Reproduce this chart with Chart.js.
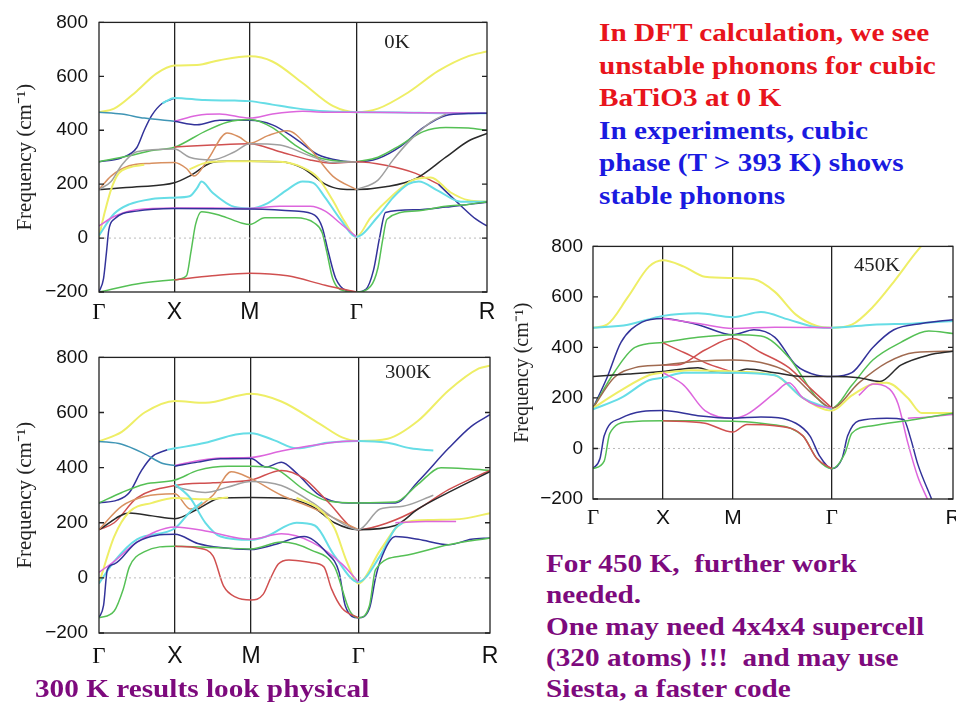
<!DOCTYPE html>
<html>
<head>
<meta charset="utf-8">
<script src="https://cdn.jsdelivr.net/npm/chart.js@4.4.0/dist/chart.umd.min.js"></script>
<style>
  body { margin: 0; background: #fff; width: 956px; height: 707px; overflow: hidden; position: relative; }
  .box { position: absolute; }
  .txt { position: absolute; font-family: 'Liberation Serif', 'Times New Roman', serif; font-weight: bold; white-space: nowrap; transform: scaleX(1.17); transform-origin: 0 0; }
  .corner { position: absolute; font-family: 'Liberation Serif', serif; font-size: 18px; color: #222; transform: translate(-50%, -50%) scaleX(1.15); }
</style>
</head>
<body>
<div class="box" style="left:0;top:0;width:500px;height:335px"><canvas id="c0" width="500" height="335"></canvas></div>
<div class="box" style="left:0;top:335px;width:500px;height:340px"><canvas id="c300" width="500" height="340"></canvas></div>
<div class="box" style="left:500px;top:225px;width:456px;height:320px"><canvas id="c450" width="456" height="320"></canvas></div>

<div class="corner" style="left:397px;top:42px">0K</div>
<div class="corner" style="left:408px;top:372px">300K</div>
<div class="corner" style="left:877px;top:265px">450K</div>

<div class="txt" style="left:599px;top:17px;font-size:25px;line-height:32.5px">
  <span style="color:#e8141c">In DFT calculation, we see<br>unstable phonons for cubic<br>BaTiO3 at 0 K</span><br>
  <span style="color:#1a1ae0">In experiments, cubic<br>phase (T &gt; 393 K) shows<br>stable phonons</span>
</div>
<div class="txt" style="left:546px;top:548px;font-size:25px;line-height:31.3px;color:#7d0a7d">
  For 450 K,&nbsp; further work<br>needed.<br>One may need 4x4x4 supercell<br>(320 atoms) !!!&nbsp; and may use<br>Siesta, a faster code
</div>
<div class="txt" style="left:35px;top:673px;font-size:25px;line-height:31px;color:#7d0a7d">300 K results look physical</div>

<script>
// high-symmetry path: Γ - X - M - Γ - R (path length units)
const kTicks = [0, 0.5, 1.0, 1.707, 2.573];
const kLabels = ['Γ', 'X', 'M', 'Γ', 'R'];
const freqTicks = [-200, 0, 200, 400, 600, 800];
const zeroLine = [[0, 0], [2.573, 0]];

// ---- 0 K bands: [k, frequency cm^-1]
const k0_yellowTop = [[0,467],[0.1,480],[0.25,545],[0.38,610],[0.5,640],[0.65,642],[0.8,660],[1.0,674],[1.15,655],[1.35,575],[1.55,490],[1.707,467],[1.85,480],[2.05,540],[2.25,620],[2.45,675],[2.573,692]];
const k0_yellowLow = [[0,5],[0.04,100],[0.08,180],[0.13,240],[0.2,262],[0.3,272]];
const k0_yellowMid = [[0.6,255],[0.7,278],[0.85,285],[1.0,285],[1.2,283],[1.35,262],[1.45,225],[1.55,140],[1.63,60],[1.707,5],[1.8,75],[1.95,160],[2.08,215],[2.2,225],[2.33,170],[2.45,140],[2.573,135]];
const k0_navyRise = [[0,283],[0.15,298],[0.25,335],[0.3,400],[0.35,455],[0.42,500],[0.5,518]];
const k0_cyanTop = [[0.42,500],[0.5,520],[0.7,512],[0.9,510],[1.0,508],[1.15,495],[1.3,482],[1.5,470],[1.707,467],[2.0,466],[2.3,463],[2.573,463]];
const k0_teal = [[0,467],[0.15,460],[0.3,445],[0.5,433]];
const k0_magentaTop = [[0.5,433],[0.65,455],[0.8,460],[1.0,445],[1.15,460],[1.35,470],[1.5,467],[1.707,467],[2.1,465],[2.573,463]];
const k0_navyTop = [[0.5,433],[0.65,420],[0.8,437],[1.0,437],[1.15,420],[1.3,370],[1.45,310],[1.6,287],[1.707,283],[1.85,295],[2.0,340],[2.15,410],[2.3,455],[2.45,462],[2.573,463]];
const k0_greenTop = [[0,283],[0.2,305],[0.35,325],[0.5,337],[0.7,395],[0.85,430],[1.0,440],[1.15,410],[1.3,345],[1.45,300],[1.6,285],[1.707,283]];
const k0_greenR = [[1.707,283],[1.85,300],[2.0,345],[2.15,395],[2.3,410],[2.45,408],[2.573,400]];
const k0_red = [[0.5,338],[0.75,345],[1.0,350],[1.2,320],[1.4,290],[1.55,278],[1.707,283],[1.9,270],[2.1,240],[2.25,200]];
const k0_navyDown = [[2.25,200],[2.4,120],[2.5,70],[2.573,45]];
const k0_orange = [[0,180],[0.08,230],[0.2,268],[0.35,278],[0.5,280],[0.58,258],[0.63,230],[0.72,290],[0.85,390],[0.93,375],[1.0,352],[1.12,380],[1.25,398],[1.4,330],[1.55,230],[1.707,180]];
const k0_black = [[0,180],[0.25,190],[0.5,205],[0.6,230],[0.75,280],[0.85,285],[1.0,285],[1.2,283],[1.35,260],[1.5,200],[1.6,182],[1.707,180],[1.9,190],[2.1,220],[2.3,300],[2.45,360],[2.573,388]];
const k0_gray = [[0,180],[0.08,210],[0.15,270],[0.25,320],[0.5,330],[0.6,300],[0.75,290],[0.9,320],[1.0,350],[1.2,345],[1.4,305],[1.55,280],[1.707,283]];
const k0_grayR = [[1.707,180],[1.85,215],[1.95,290],[2.05,355],[2.2,430],[2.3,460]];
const k0_cyanLow = [[0,10],[0.1,90],[0.2,125],[0.35,145],[0.5,150],[0.6,155],[0.65,185],[0.68,210],[0.75,170],[0.9,115],[1.0,110],[1.12,130],[1.25,180],[1.35,210],[1.42,205],[1.5,150],[1.6,70],[1.707,5],[1.85,80],[1.95,150],[2.05,200],[2.12,210],[2.25,175],[2.4,135],[2.573,135]];
const k0_magentaLow = [[0,45],[0.1,80],[0.25,105],[0.5,112],[0.75,112],[1.0,110],[1.2,118],[1.4,118],[1.5,100],[1.6,55],[1.707,5]];
const k0_navyLow = [[0,-200],[0.03,-150],[0.05,-50],[0.065,30],[0.1,70],[0.25,100],[0.5,110],[1.0,108],[1.3,100],[1.43,85],[1.48,40],[1.52,-50],[1.57,-150],[1.64,-195],[1.707,-200],[1.77,-190],[1.82,-120],[1.86,0],[1.9,95],[2.1,105],[2.3,115],[2.45,125],[2.573,133]];
const k0_greenLow = [[0,-200],[0.25,-170],[0.5,-155],[0.58,-140],[0.61,-50],[0.64,50],[0.68,98],[0.8,85],[0.95,55],[1.0,50],[1.1,75],[1.3,75],[1.43,55],[1.48,20],[1.51,-50],[1.55,-150],[1.62,-195],[1.707,-200],[1.8,-180],[1.85,-110],[1.88,-10],[1.91,70],[2.1,100],[2.3,118],[2.45,125],[2.573,135]];
const k0_redLow = [[0.5,-155],[0.75,-140],[1.0,-130],[1.25,-140],[1.5,-175],[1.707,-200]];

// ---- 300 K bands
const k3_yellowTop = [[0,495],[0.15,530],[0.3,600],[0.5,642],[0.7,635],[1.0,668],[1.2,640],[1.45,560],[1.6,510],[1.707,497],[1.9,505],[2.1,570],[2.3,680],[2.5,760],[2.573,770]];
const k3_teal = [[0,495],[0.15,485],[0.3,450],[0.42,415],[0.5,408]];
const k3_navyRise = [[0,272],[0.12,282],[0.2,310],[0.28,390],[0.35,440],[0.45,465]];
const k3_cyanTop = [[0.45,465],[0.5,470],[0.7,490],[0.9,520],[1.0,525],[1.15,500],[1.3,470],[1.5,490],[1.707,497],[1.9,490],[2.05,470],[2.2,462]];
const k3_magentaTop = [[0.5,408],[0.65,425],[0.8,435],[1.0,437],[1.2,460],[1.4,480],[1.6,495],[1.707,497]];
const k3_navyTop = [[0.5,405],[0.65,420],[0.8,432],[1.0,433],[1.1,402],[1.2,420],[1.3,380],[1.45,300],[1.6,273],[1.707,272],[1.95,272],[2.1,350],[2.3,470],[2.45,550],[2.573,592]];
const k3_greenTop = [[0,272],[0.15,310],[0.3,340],[0.5,355],[0.65,390],[0.85,405],[1.0,405],[1.15,398],[1.35,320],[1.5,280],[1.707,272],[1.95,275],[2.1,340],[2.25,400],[2.45,395],[2.573,390]];
const k3_red = [[0,175],[0.1,200],[0.25,290],[0.5,335],[0.75,345],[1.0,355],[1.2,390],[1.35,360],[1.5,280],[1.707,175],[1.9,200],[2.1,250],[2.3,320],[2.573,390]];
const k3_orange = [[0,175],[0.15,260],[0.3,295],[0.5,305],[0.6,250],[0.75,300],[0.87,385],[1.0,360],[1.2,300],[1.4,255],[1.707,175]];
const k3_black = [[0,175],[0.2,235],[0.35,225],[0.5,215],[0.65,250],[0.8,290],[1.0,292],[1.2,290],[1.4,260],[1.55,200],[1.707,175],[1.95,190],[2.1,250],[2.3,310],[2.573,385]];
const k3_gray = [[0.5,330],[0.7,310],[0.85,330],[1.0,350],[1.2,335],[1.4,275],[1.55,215],[1.707,175],[1.85,250],[2.0,260],[2.2,300]];
const k3_yellowLow = [[0,-20],[0.1,150],[0.2,240],[0.35,272],[0.5,290],[0.7,285],[0.85,292]];
const k3_yellowMid = [[1.3,290],[1.45,250],[1.55,180],[1.63,60],[1.707,-20],[1.85,100],[2.0,200],[2.2,210],[2.4,215],[2.573,235]];
const k3_cyanLowA = [[0,-20],[0.1,60],[0.25,140],[0.5,180],[0.6,240],[0.68,275]];
const k3_cyanLowB = [[0.5,340],[0.6,290],[0.7,200],[0.8,150],[1.0,138],[1.1,150],[1.3,200],[1.42,190],[1.55,80],[1.707,-15],[1.85,80],[1.95,180],[2.0,200]];
const k3_magentaLow = [[0,20],[0.1,60],[0.25,130],[0.5,185],[0.7,170],[1.0,140],[1.2,160],[1.4,130],[1.6,50],[1.707,-15]];
const k3_magentaR = [[1.95,200],[2.15,205],[2.35,205]];
const k3_navyLow = [[0,-145],[0.03,-100],[0.055,30],[0.1,50],[0.25,130],[0.5,158],[0.65,125],[0.8,110],[1.0,103],[1.15,120],[1.35,150],[1.5,90],[1.58,20],[1.62,-100],[1.707,-145],[1.78,-110],[1.82,0],[1.85,60],[1.95,150],[2.1,140],[2.3,120],[2.45,140],[2.573,145]];
const k3_greenLow = [[0,-145],[0.1,-120],[0.16,-40],[0.2,40],[0.3,95],[0.5,115],[0.75,110],[1.0,105],[1.2,130],[1.4,100],[1.55,40],[1.65,-120],[1.707,-145],[1.78,-100],[1.82,30],[2.0,80],[2.3,120],[2.573,145]];
const k3_redLow = [[0.5,115],[0.65,108],[0.75,80],[0.82,-30],[0.9,-70],[1.0,-80],[1.08,-60],[1.13,0],[1.18,50],[1.25,65],[1.4,55],[1.48,40],[1.53,-40],[1.6,-110],[1.707,-145]];

// ---- 450 K bands
const k4_yellowTop = [[0,478],[0.1,490],[0.25,600],[0.4,720],[0.5,745],[0.65,720],[0.8,680],[1.0,675],[1.15,670],[1.3,620],[1.45,530],[1.6,485],[1.707,478],[1.85,490],[2.0,560],[2.15,660],[2.3,770],[2.45,870]];
const k4_cyanTop = [[0,478],[0.25,490],[0.5,525],[0.75,535],[1.0,520],[1.2,540],[1.4,510],[1.6,480],[1.707,478],[2.0,490],[2.3,495],[2.573,505]];
const k4_navyTop = [[0,160],[0.1,280],[0.2,420],[0.35,500],[0.5,515],[0.75,490],[1.0,450],[1.15,470],[1.3,440],[1.45,330],[1.6,290],[1.707,285],[1.85,300],[2.0,400],[2.15,470],[2.35,495],[2.573,510]];
const k4_magentaTop = [[0.5,515],[0.75,495],[1.0,475],[1.3,480],[1.707,478]];
const k4_greenTop = [[0,160],[0.15,300],[0.3,400],[0.5,420],[0.75,440],[1.0,450],[1.2,445],[1.4,360],[1.6,200],[1.707,160],[1.85,250],[2.0,350],[2.2,420],[2.4,465],[2.573,455]];
const k4_redA = [[0.5,418],[0.65,380],[0.8,340],[1.0,302]];
const k4_redB = [[0.5,330],[0.6,330],[0.8,390],[1.0,435],[1.2,380],[1.4,320],[1.55,240],[1.707,160]];
const k4_brown = [[0,160],[0.15,280],[0.3,320],[0.5,330],[0.75,345],[1.0,350],[1.2,340],[1.4,300],[1.6,200],[1.707,160],[1.9,260],[2.1,340],[2.3,380],[2.573,385]];
const k4_black = [[0,285],[0.25,295],[0.5,305],[0.75,320],[0.85,305],[1.0,300],[1.1,315],[1.3,300],[1.5,285],[1.707,285],[1.9,280],[2.05,265],[2.2,330],[2.4,370],[2.573,385]];
const k4_yellowLow = [[0,160],[0.2,230],[0.4,290],[0.5,300],[0.7,310],[1.0,305],[1.3,290],[1.5,200],[1.707,150],[1.85,210],[2.0,255],[2.1,260],[2.25,200],[2.35,140],[2.573,140]];
const k4_cyanLow = [[0,155],[0.2,200],[0.4,270],[0.5,280],[0.65,300],[1.0,300],[1.3,290],[1.5,200],[1.707,155]];
const k4_magentaLow = [[0.5,300],[0.65,250],[0.8,150],[1.0,120],[1.1,135],[1.3,220],[1.4,260],[1.5,200],[1.6,170],[1.707,160]];
const k4_magentaR = [[1.9,210],[2.0,255],[2.12,235],[2.18,177],[2.25,22],[2.32,-110],[2.39,-200]];
const k4_magentaR2 = [[2.25,120],[2.4,125],[2.573,135]];
const k4_navyLow = [[0,-80],[0.05,-40],[0.08,50],[0.2,120],[0.5,150],[0.75,130],[1.0,120],[1.2,125],[1.45,100],[1.55,50],[1.62,-30],[1.707,-80],[1.78,-40],[1.82,50],[1.9,110],[2.1,120],[2.22,115],[2.27,40],[2.32,-60],[2.42,-200]];
const k4_greenLow = [[0,-80],[0.08,-50],[0.12,60],[0.25,105],[0.5,110],[0.75,110],[1.0,108],[1.2,100],[1.5,50],[1.6,-40],[1.707,-80],[1.8,-20],[1.85,60],[2.0,90],[2.3,115],[2.573,140]];
const k4_redLow = [[0.5,110],[0.8,100],[1.0,65],[1.1,95],[1.3,90],[1.5,50],[1.6,-40],[1.707,-80]];

// line colours (gnuplot-like, washed out)
const COL = {
  yellow: '#eeee66', cyan: '#66dde6', teal: '#3f95b5', magenta: '#dd66dd', navy: '#33339a',
  green: '#55c055', red: '#d05050', orange: '#d89060', brown: '#a06a50', gray: '#a0a0a0', black: '#2a2a2a'
};

const bands0 = [
  [k0_redLow,'red'],[k0_greenLow,'green'],[k0_navyLow,'navy'],[k0_magentaLow,'magenta'],[k0_cyanLow,'cyan'],
  [k0_yellowMid,'yellow'],[k0_yellowLow,'yellow'],[k0_gray,'gray'],[k0_grayR,'gray'],[k0_orange,'orange'],
  [k0_black,'black'],[k0_red,'red'],[k0_navyDown,'navy'],[k0_greenTop,'green'],[k0_greenR,'green'],
  [k0_navyTop,'navy'],[k0_magentaTop,'magenta'],[k0_teal,'teal'],[k0_cyanTop,'cyan'],[k0_navyRise,'navy'],[k0_yellowTop,'yellow']
];
const bands300 = [
  [k3_redLow,'red'],[k3_greenLow,'green'],[k3_navyLow,'navy'],[k3_magentaLow,'magenta'],[k3_magentaR,'magenta'],
  [k3_cyanLowA,'cyan'],[k3_cyanLowB,'cyan'],[k3_yellowLow,'yellow'],[k3_yellowMid,'yellow'],[k3_gray,'gray'],
  [k3_orange,'orange'],[k3_black,'black'],[k3_red,'red'],[k3_greenTop,'green'],[k3_navyTop,'navy'],
  [k3_magentaTop,'magenta'],[k3_teal,'teal'],[k3_cyanTop,'cyan'],[k3_navyRise,'navy'],[k3_yellowTop,'yellow']
];
const bands450 = [
  [k4_redLow,'red'],[k4_greenLow,'green'],[k4_navyLow,'navy'],[k4_magentaR2,'magenta'],[k4_magentaR,'magenta'],
  [k4_magentaLow,'magenta'],[k4_cyanLow,'cyan'],[k4_yellowLow,'yellow'],[k4_black,'black'],[k4_brown,'brown'],
  [k4_redA,'red'],[k4_redB,'red'],[k4_greenTop,'green'],[k4_magentaTop,'magenta'],[k4_navyTop,'navy'],
  [k4_cyanTop,'cyan'],[k4_yellowTop,'yellow']
];

// frame + inward y tics, like gnuplot's border
const framePlugin = {
  id: 'frame',
  afterDatasetsDraw(chart) {
    const {ctx, chartArea: a} = chart;
    const y = chart.scales.y;
    ctx.save();
    ctx.strokeStyle = '#222';
    ctx.lineWidth = 1.3;
    ctx.strokeRect(a.left, a.top, a.right - a.left, a.bottom - a.top);
    y.ticks.forEach(t => {
      const py = y.getPixelForValue(t.value);
      ctx.beginPath();
      ctx.moveTo(a.left, py); ctx.lineTo(a.left + 5, py);
      ctx.moveTo(a.right, py); ctx.lineTo(a.right - 5, py);
      ctx.stroke();
    });
    ctx.restore();
  }
};

function makeChart(id, bands, g) {
  const datasets = [{
    data: zeroLine.map(([x, y]) => ({x, y})),
    borderColor: '#bbbbbb', borderWidth: 1, borderDash: [2, 3], pointRadius: 0, tension: 0
  }];
  bands.forEach(([pts, c]) => {
    datasets.push({
      data: pts.map(([x, y]) => ({x, y})),
      borderColor: COL[c],
      borderWidth: (c === 'yellow' || c === 'cyan') ? 2 : 1.5,
      pointRadius: 0,
      cubicInterpolationMode: 'monotone'
    });
  });

  new Chart(document.getElementById(id).getContext('2d'), {
    type: 'line',
    data: { datasets },
    plugins: [framePlugin],
    options: {
      responsive: false,
      animation: false,
      layout: { padding: { top: g.padTop, right: g.padRight, left: 0, bottom: 0 } },
      plugins: { legend: { display: false }, tooltip: { enabled: false } },
      scales: {
        x: {
          type: 'linear', min: 0, max: 2.573,
          afterBuildTicks: s => { s.ticks = kTicks.map(v => ({ value: v })); },
          afterFit: s => { s.height = g.xH; s.paddingLeft = 0; s.paddingRight = 0; },
          ticks: {
            autoSkip: false, maxRotation: 0, color: '#111', padding: g.xPad,
            callback: (v, i) => kLabels[i],
            font: c => ({ family: (c.index === 0 || c.index === 3) ? "'Liberation Serif'" : "'Liberation Sans'", size: g.xFont })
          },
          grid: {
            drawTicks: false,
            lineWidth: 1.3,
            color: c => (c.index > 0 && c.index < 4) ? '#222' : 'rgba(0,0,0,0)'
          },
          border: { display: false }
        },
        y: {
          min: -200, max: 800,
          afterBuildTicks: s => { s.ticks = freqTicks.map(v => ({ value: v })); },
          afterFit: s => { s.width = g.yW; },
          ticks: {
            color: '#111', padding: g.yPad, font: { family: "'Liberation Sans'", size: g.yFont },
            callback: v => (v < 0 ? '\u2212' + Math.abs(v) : String(v))
          },
          grid: { display: false, drawTicks: false },
          border: { display: false },
          title: {
            display: true, text: 'Frequency (cm⁻¹)', color: '#222',
            font: { family: "'Liberation Serif'", size: g.titleFont },
            padding: { top: g.titlePad, bottom: 0 }
          }
        }
      }
    }
  });
}

makeChart('c0', bands0, { padTop: 15, padRight: 13, xH: 43, yW: 99, xPad: 7, xFont: 23, yFont: 19, yPad: 11, titleFont: 21, titlePad: 13 });
makeChart('c300', bands300, { padTop: 15, padRight: 10, xH: 42, yW: 99, xPad: 10, xFont: 23, yFont: 19, yPad: 11, titleFont: 21, titlePad: 13 });
makeChart('c450', bands450, { padTop: 16, padRight: 3, xH: 46, yW: 93, xPad: 7, xFont: 21, yFont: 19, yPad: 10, titleFont: 20, titlePad: 11 });
</script>
</body>
</html>
